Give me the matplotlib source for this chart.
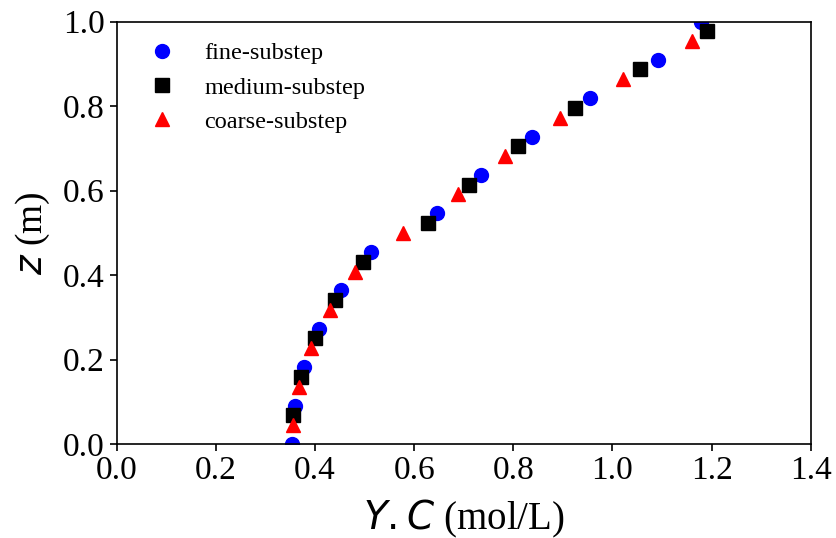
import matplotlib
matplotlib.use("Agg")
import matplotlib.pyplot as plt

plt.rcParams['font.family'] = ['Liberation Serif', 'DejaVu Serif']
plt.rcParams['mathtext.fontset'] = 'dejavusans'

z_fine = [0.0, 0.091, 0.182, 0.273, 0.364, 0.455, 0.546, 0.637, 0.728, 0.819, 0.909, 1.0]
x_fine = [0.353, 0.359, 0.378, 0.409, 0.453, 0.512, 0.647, 0.734, 0.837, 0.955, 1.091, 1.178]

z_medium = [0.069, 0.159, 0.250, 0.341, 0.432, 0.523, 0.614, 0.705, 0.796, 0.887, 0.978]
x_medium = [0.356, 0.372, 0.400, 0.441, 0.496, 0.628, 0.711, 0.809, 0.924, 1.056, 1.191]

z_coarse = [0.045, 0.136, 0.227, 0.317, 0.408, 0.500, 0.591, 0.682, 0.773, 0.864, 0.955]
x_coarse = [0.355, 0.367, 0.392, 0.430, 0.481, 0.578, 0.688, 0.783, 0.894, 1.021, 1.161]

labels = ['fine-substep', 'medium-substep', 'coarse-substep']

fig = plt.figure(figsize=(8.37, 5.38), dpi=100)
ax = fig.add_axes([0.1395, 0.1747, 0.8291, 0.7850])

ax.plot(x_fine, z_fine, 'o', color='blue', markersize=10, label=labels[0], linestyle='none')
ax.plot(x_medium, z_medium, 's', color='black', markersize=10, label=labels[1], linestyle='none')
ax.plot(x_coarse, z_coarse, '^', color='red', markersize=10, label=labels[2], linestyle='none')

ax.set_xlim(0, 1.4)
ax.set_ylim(0, 1.0)
ax.set_xticks([0.0, 0.2, 0.4, 0.6, 0.8, 1.0, 1.2, 1.4])
ax.set_yticks([0.0, 0.2, 0.4, 0.6, 0.8, 1.0])
ax.tick_params(labelsize=24, length=5, width=1.2)
for s in ax.spines.values():
    s.set_linewidth(1.2)

ax.set_xlabel('$Y.C$ (mol/L)', fontsize=28, labelpad=8)
ax.set_ylabel('$z$ (m)', fontsize=27, labelpad=8)

ax.legend(loc='upper left', frameon=False, fontsize=17.5, handletextpad=0.75,
          borderaxespad=0.45, labelspacing=0.5)

fig.savefig('out.png', dpi=100)
